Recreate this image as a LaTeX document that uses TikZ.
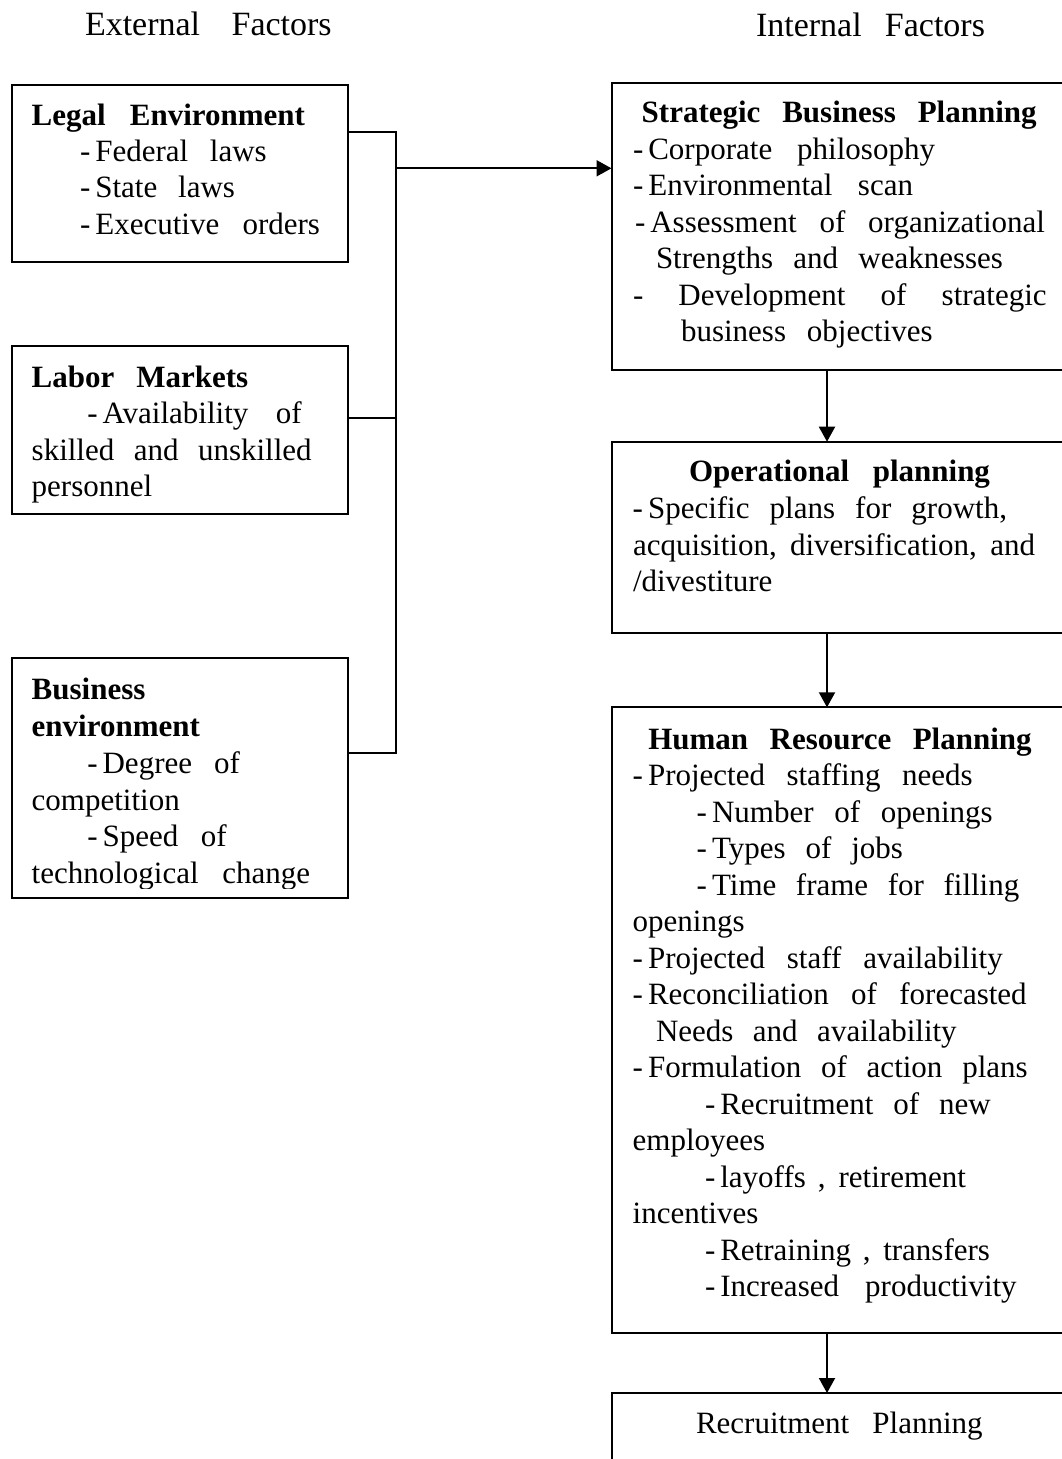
\documentclass[tikz,border=0pt]{standalone}
\usepackage{fontspec}
\setmainfont{Liberation Serif}
\usetikzlibrary{arrows.meta}
% dash followed by a fixed (non-stretching) gap
\newcommand\dsh{-\hspace{5pt}}
% a line of text spread to a given width
\newcommand\jl[2]{\makebox[#1pt][s]{#2}}
\tikzset{
  frame/.style={draw, line width=2pt, rectangle, inner sep=0pt, outer sep=0pt, anchor=north west},
  txt/.style={anchor=base west, inner sep=0pt, outer sep=0pt, font=\fontsize{31}{37}\selectfont},
  ttl/.style={txt, font=\fontsize{31}{37}\selectfont\bfseries},
  hdr/.style={txt, font=\fontsize{34}{40}\selectfont},
  conn/.style={line width=2pt, line join=miter},
  arr/.style={line width=2pt, -{Triangle[length=15pt,width=16pt]}},
}
\begin{document}
\begin{tikzpicture}[x=1pt, y=-1pt]
\useasboundingbox (0,0) rectangle (1062,1459);
\clip (0,0) rectangle (1062,1459);

% column headings
\node[hdr] (hdrExt) at (85,35.7) {\jl{246.7}{External Factors}};
\node[hdr] (hdrInt) at (756,36) {\jl{229}{Internal Factors}};

% ---- external factor boxes ----
\node[frame, minimum width=336pt, minimum height=177pt] (legal) at (11.5,85) {};
\node[frame, minimum width=336pt, minimum height=168pt] (labor) at (11.5,346) {};
\node[frame, minimum width=336pt, minimum height=239.5pt] (bus) at (11.5,658.3) {};

\node[ttl] (lg1) at (31.7,125) {\jl{273.3}{Legal Environment}};
\node[txt] (lg2) at (80,161.5) {\jl{186.7}{\dsh Federal laws}};
\node[txt] (lg3) at (80,197.8) {\jl{155}{\dsh State laws}};
\node[txt] (lg4) at (80,234) {\jl{240}{\dsh Executive orders}};

\node[ttl] (lb1) at (31.7,387) {\jl{216.6}{Labor Markets}};
\node[txt] (lb2) at (87.3,423.5) {\jl{214.4}{\dsh Availability of}};
\node[txt] (lb3) at (31.7,460) {\jl{280}{skilled and unskilled}};
\node[txt] (lb4) at (31.7,496.5) {personnel};

\node[ttl] (bs1) at (31.7,699) {Business};
\node[ttl] (bs2) at (31.7,736) {environment};
\node[txt] (bs3) at (87.3,773) {\jl{152.7}{\dsh Degree of}};
\node[txt] (bs4) at (31.7,810) {competition};
\node[txt] (bs5) at (87.3,846.5) {\jl{139.4}{\dsh Speed of}};
\begin{scope}
  \clip (11.5,658) rectangle (347.5,888);
  \node[txt] (bs6) at (31.7,883) {\jl{278.3}{technological change}};
\end{scope}

% ---- internal factor boxes (running off the right edge) ----
\node[frame, minimum width=470pt, minimum height=287.3pt] (strat) at (611.5,82.7) {};
\node[frame, minimum width=470pt, minimum height=191.3pt] (oper) at (611.5,441.7) {};
\node[frame, minimum width=470pt, minimum height=625.4pt] (hr) at (611.5,707.3) {};
\node[frame, minimum width=470pt, minimum height=100pt] (rec) at (611.5,1393) {};

\node[ttl] (st1) at (641.7,122.7) {\jl{395}{Strategic Business Planning}};
\node[txt] (st2) at (633,159.3) {\jl{302}{\dsh Corporate philosophy}};
\node[txt] (st3) at (633,195.5) {\jl{280}{\dsh Environmental scan}};
\node[txt] (st4) at (635,232.5) {\jl{410}{\dsh Assessment of organizational}};
\node[txt] (st5) at (656,268.5) {\jl{347}{Strengths and weaknesses}};
\node[txt] (st6) at (633,305) {\jl{413.7}{- Development of strategic}};
\node[txt] (st7) at (681,341) {\jl{251.7}{business objectives}};

\node[ttl] (op1) at (689,481.7) {\jl{301}{Operational planning}};
\node[txt] (op2) at (632.7,518.3) {\jl{374.3}{\dsh Specific plans for growth,}};
\node[txt] (op3) at (633,555) {\jl{402}{acquisition, diversification, and}};
\node[txt] (op4) at (633,591.7) {/divestiture};

\node[ttl] (hr1) at (648.3,749) {\jl{383.4}{Human Resource Planning}};
\node[txt] (hr2) at (632.7,785.5) {\jl{340}{\dsh Projected staffing needs}};
\node[txt] (hr3) at (696.7,822) {\jl{296}{\dsh Number of openings}};
\node[txt] (hr4) at (696.7,858.5) {\jl{206.3}{\dsh Types of jobs}};
\node[txt] (hr5) at (696.7,895) {\jl{322.6}{\dsh Time frame for filling}};
\node[txt] (hr6) at (632.7,931.5) {openings};
\node[txt] (hr7) at (632.7,968) {\jl{370}{\dsh Projected staff availability}};
\node[txt] (hr8) at (632.7,1004.5) {\jl{394}{\dsh Reconciliation of forecasted}};
\node[txt] (hr9) at (656,1041) {\jl{300.7}{Needs and availability}};
\node[txt] (hr10) at (632.7,1077.5) {\jl{395}{\dsh Formulation of action plans}};
\node[txt] (hr11) at (705,1114) {\jl{285.7}{\dsh Recruitment of new}};
\node[txt] (hr12) at (632.7,1150.5) {employees};
\node[txt] (hr13) at (705,1187) {\jl{261}{\dsh layoffs , retirement}};
\node[txt] (hr14) at (632.7,1223.5) {incentives};
\node[txt] (hr15) at (705,1260) {\jl{285}{\dsh Retraining , transfers}};
\node[txt] (hr16) at (705,1296.5) {\jl{311.7}{\dsh Increased productivity}};

\node[txt] (rc1) at (696,1433.3) {\jl{286.7}{Recruitment Planning}};

% ---- connectors ----
\coordinate (jTop) at (395.5,132.3);
\coordinate (jArr) at (395.5,168.3);
\coordinate (jMid) at (395.5,418.3);
\coordinate (jBot) at (395.5,753.3);
\coordinate (ax) at (827,0);

\draw[conn] (legal.east |- jTop) -- (jTop) -- (jBot) -- (bus.east |- jBot);
\draw[conn] (labor.east |- jMid) -- (jMid);
\draw[arr] (jArr) -- (strat.west |- jArr);

\draw[arr] (strat.south -| ax) -- (oper.north -| ax);
\draw[arr] (oper.south -| ax) -- (hr.north -| ax);
\draw[arr] (hr.south -| ax) -- (rec.north -| ax);
\end{tikzpicture}
\end{document}
